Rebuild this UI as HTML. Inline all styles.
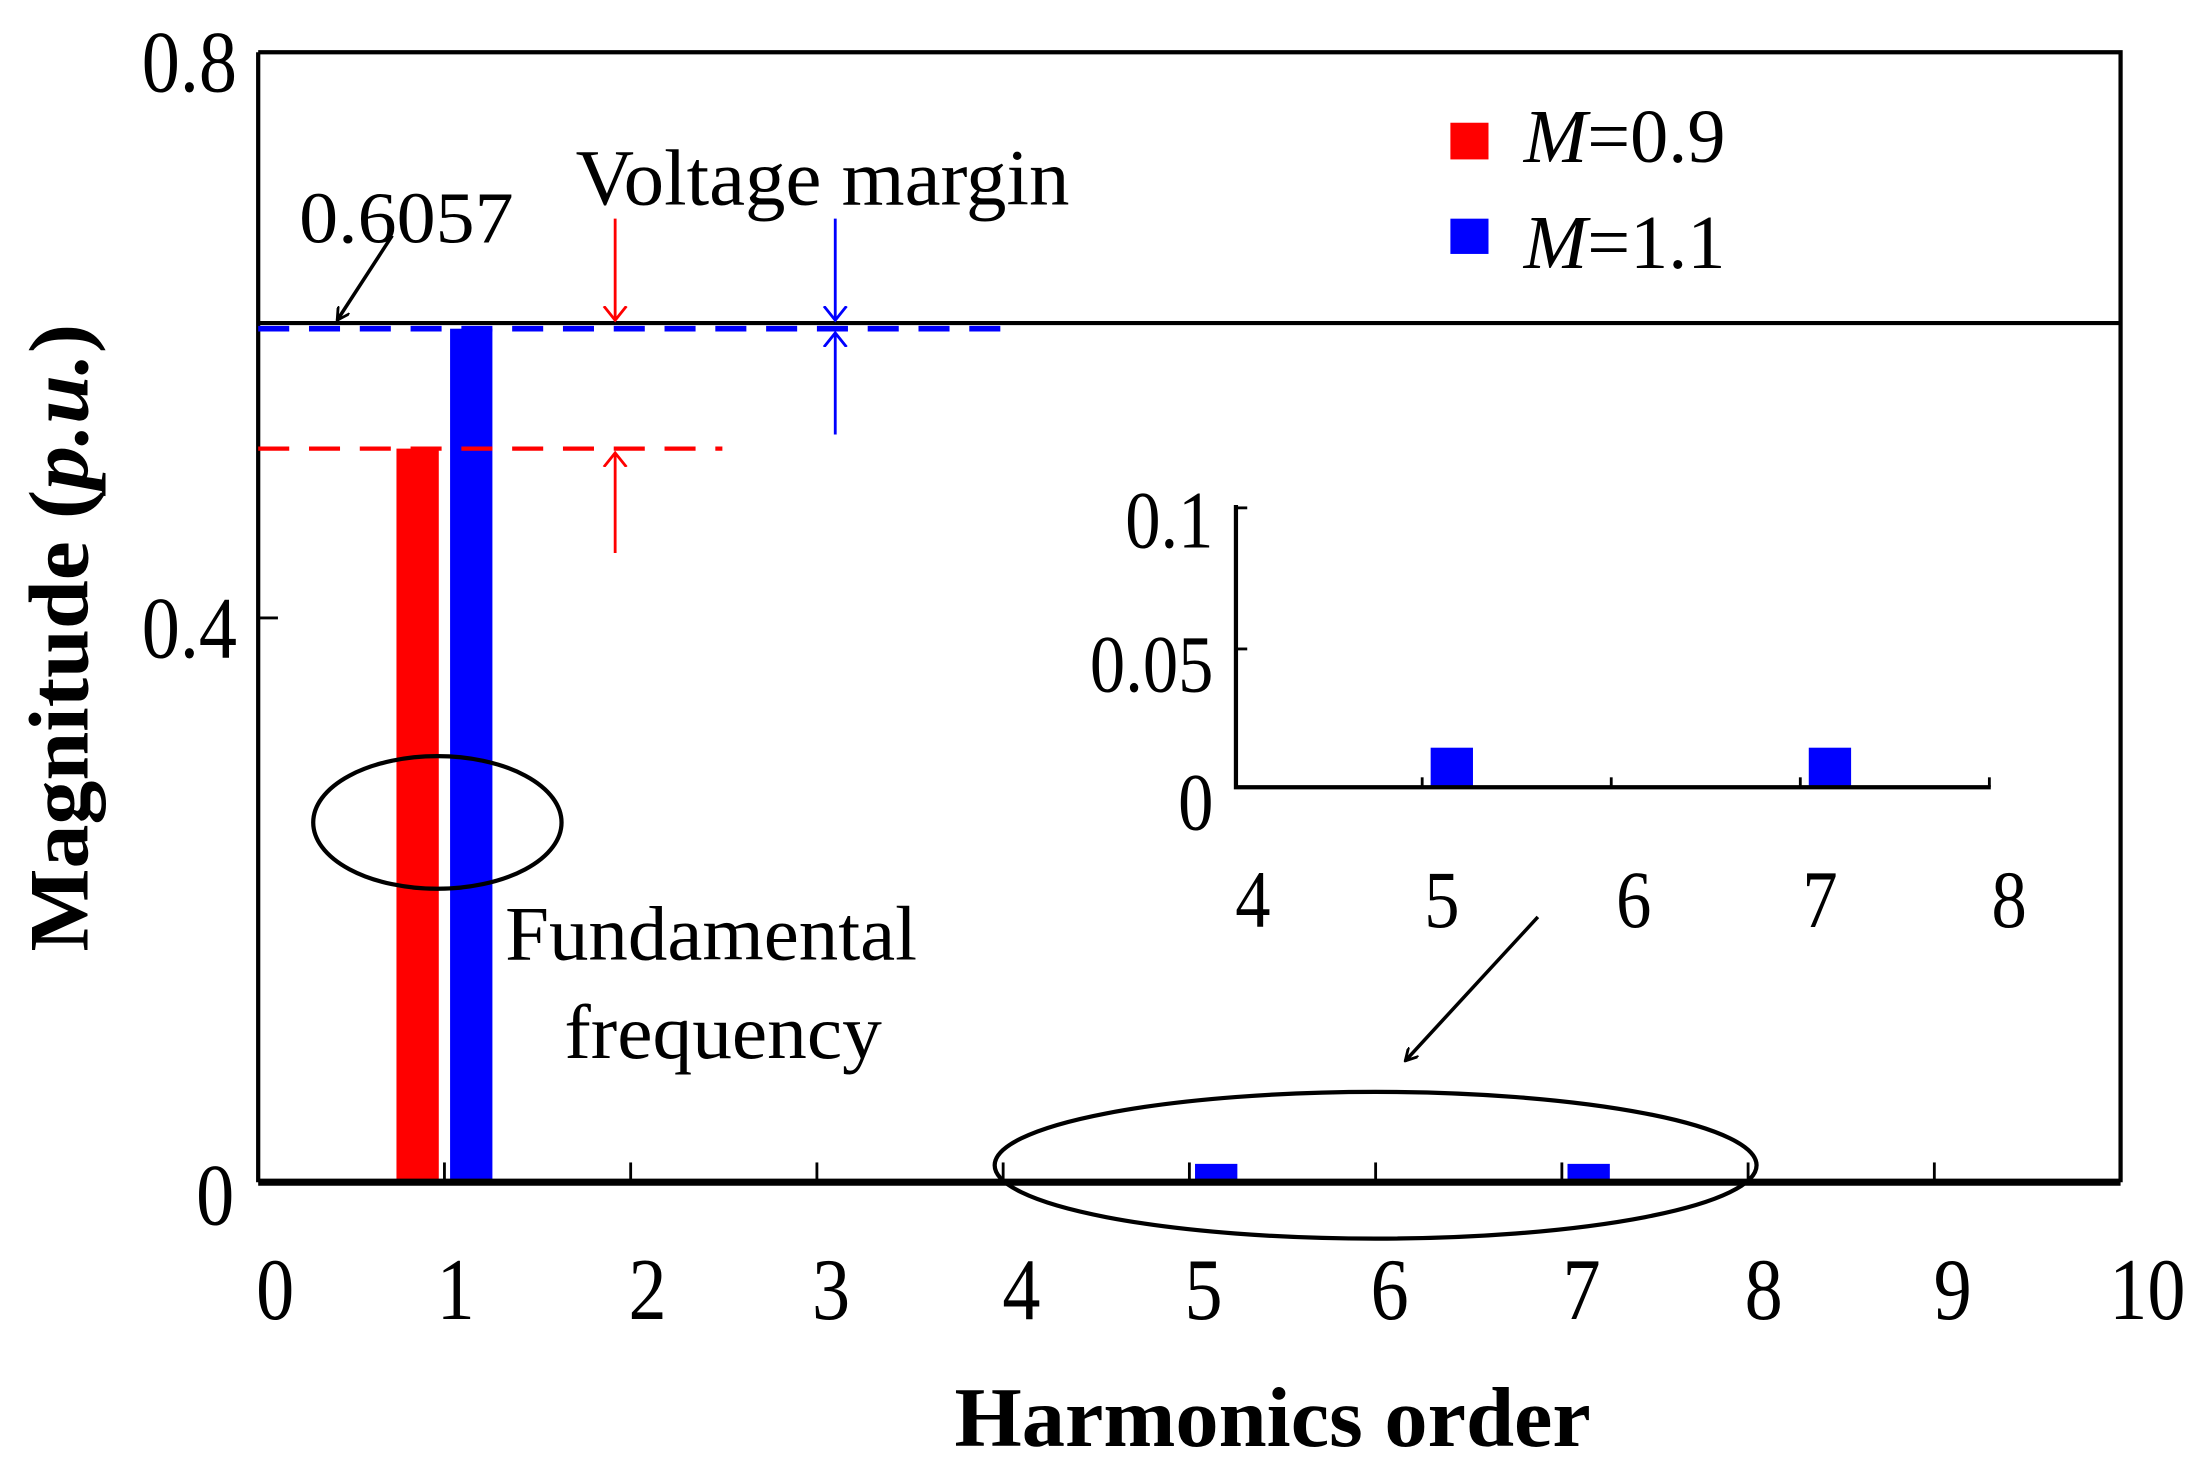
<!DOCTYPE html>
<html><head><meta charset="utf-8"><style>
html,body{margin:0;padding:0;background:#fff;}
svg{display:block;}
text{font-family:"Liberation Serif",serif;}
</style></head><body>
<svg width="2201" height="1470" viewBox="0 0 1560 1042" preserveAspectRatio="none" xmlns="http://www.w3.org/2000/svg">
<defs>
<marker id="ak" markerWidth="10" markerHeight="10" refX="9" refY="5" orient="auto" markerUnits="userSpaceOnUse"><path d="M0,0 L9,5 L0,10" fill="none" stroke="#000" stroke-width="2"/></marker>
<marker id="ar" markerWidth="20" markerHeight="20" refX="10" refY="10" orient="auto" markerUnits="userSpaceOnUse"><path d="M0,2 L10,10 L0,18" fill="none" stroke="red" stroke-width="2"/></marker>
<marker id="ab" markerWidth="20" markerHeight="20" refX="10" refY="10" orient="auto" markerUnits="userSpaceOnUse"><path d="M0,2 L10,10 L0,18" fill="none" stroke="blue" stroke-width="2"/></marker>
</defs>
<rect x="281" y="318" width="30" height="520" fill="red"/>
<rect x="319" y="233" width="30" height="605" fill="blue"/>
<rect x="847" y="825" width="30" height="13" fill="blue"/>
<rect x="1111" y="825" width="30" height="13" fill="blue"/>
<path d="M183,37 H1503 V838 M183,37 V838" fill="none" stroke="#000" stroke-width="3"/>
<line x1="183" y1="838" x2="1503" y2="838" stroke="#000" stroke-width="5"/>
<g stroke="#000" stroke-width="2">
<line x1="315" y1="838" x2="315" y2="824"/><line x1="447" y1="838" x2="447" y2="824"/><line x1="579" y1="838" x2="579" y2="824"/><line x1="711" y1="838" x2="711" y2="824"/><line x1="843" y1="838" x2="843" y2="824"/><line x1="975" y1="838" x2="975" y2="824"/><line x1="1107" y1="838" x2="1107" y2="824"/><line x1="1239" y1="838" x2="1239" y2="824"/><line x1="1371" y1="838" x2="1371" y2="824"/>
<line x1="183" y1="438" x2="197" y2="438"/>
</g>
<line x1="183" y1="229" x2="1503" y2="229" stroke="#000" stroke-width="3"/>
<line x1="183" y1="233" x2="720" y2="233" stroke="blue" stroke-width="4" stroke-dasharray="22,14"/>
<line x1="183" y1="318" x2="512" y2="318" stroke="red" stroke-width="3" stroke-dasharray="22,14"/>
<line x1="436" y1="155" x2="436" y2="227" stroke="red" stroke-width="2" marker-end="url(#ar)"/>
<line x1="436" y1="392" x2="436" y2="321" stroke="red" stroke-width="2" marker-end="url(#ar)"/>
<line x1="592" y1="155" x2="592" y2="227" stroke="blue" stroke-width="2" marker-end="url(#ab)"/>
<line x1="592" y1="308" x2="592" y2="236" stroke="blue" stroke-width="2" marker-end="url(#ab)"/>
<line x1="278" y1="167" x2="239" y2="227" stroke="#000" stroke-width="2.5" marker-end="url(#ak)"/>
<line x1="1090" y1="650" x2="996" y2="752" stroke="#000" stroke-width="2.5" marker-end="url(#ak)"/>
<ellipse cx="310" cy="583" rx="88" ry="47" fill="none" stroke="#000" stroke-width="3"/>
<ellipse cx="975" cy="826" rx="270" ry="52" fill="none" stroke="#000" stroke-width="3"/>
<rect x="1014" y="530" width="30" height="28" fill="blue"/>
<rect x="1282" y="530" width="30" height="28" fill="blue"/>
<path d="M876,358 V558 H1411" fill="none" stroke="#000" stroke-width="3"/>
<g stroke="#000" stroke-width="2">
<line x1="876" y1="460" x2="884" y2="460"/><line x1="876" y1="360" x2="884" y2="360"/>
<line x1="1008" y1="558" x2="1008" y2="551"/><line x1="1142" y1="558" x2="1142" y2="551"/><line x1="1276" y1="558" x2="1276" y2="551"/><line x1="1410" y1="558" x2="1410" y2="551"/>
</g>
<g font-size="50" text-anchor="end">
<text x="860" y="388" transform="translate(860,388) scale(1,1.15) translate(-860,-388)">0.1</text>
<text x="860" y="490" transform="translate(860,490) scale(1,1.15) translate(-860,-490)">0.05</text>
<text x="860" y="588" transform="translate(860,588) scale(1,1.15) translate(-860,-588)">0</text>
</g>
<g font-size="50" text-anchor="middle" transform="translate(0,657) scale(1,1.15) translate(0,-657)">
<text x="888" y="657">4</text><text x="1022" y="657">5</text><text x="1158" y="657">6</text><text x="1290" y="657">7</text><text x="1424" y="657">8</text>
</g>
<g font-size="54" text-anchor="end">
<text x="168" y="65" transform="translate(168,65) scale(1,1.15) translate(-168,-65)">0.8</text>
<text x="168" y="466" transform="translate(168,466) scale(1,1.15) translate(-168,-466)">0.4</text>
<text x="166" y="868" transform="translate(166,868) scale(1,1.15) translate(-166,-868)">0</text>
</g>
<g font-size="54" text-anchor="middle" transform="translate(0,935) scale(1,1.15) translate(0,-935)">
<text x="195" y="935">0</text><text x="323" y="935">1</text><text x="459" y="935">2</text><text x="589" y="935">3</text><text x="724" y="935">4</text><text x="853" y="935">5</text><text x="985" y="935">6</text><text x="1121" y="935">7</text><text x="1250" y="935">8</text><text x="1384" y="935">9</text><text x="1522" y="935">10</text>
</g>
<text x="408" y="145" font-size="56" textLength="350" lengthAdjust="spacingAndGlyphs">Voltage margin</text>
<text x="212" y="172" font-size="52" textLength="152" lengthAdjust="spacingAndGlyphs">0.6057</text>
<text x="358" y="680" font-size="55" textLength="292" lengthAdjust="spacingAndGlyphs">Fundamental</text>
<text x="400" y="750" font-size="55" textLength="225" lengthAdjust="spacingAndGlyphs">frequency</text>
<rect x="1028" y="87" width="27" height="26" fill="red"/>
<rect x="1028" y="155" width="27" height="25" fill="blue"/>
<text x="1080" y="115" font-size="54"><tspan font-style="italic">M</tspan>=0.9</text>
<text x="1080" y="190" font-size="54"><tspan font-style="italic">M</tspan>=1.1</text>
<text x="902" y="1025" font-size="60" font-weight="bold" text-anchor="middle" textLength="451" lengthAdjust="spacingAndGlyphs">Harmonics order</text>
<text transform="translate(62,452) rotate(-90)" font-size="60" font-weight="bold" text-anchor="middle" textLength="445" lengthAdjust="spacingAndGlyphs">Magnitude (<tspan font-style="italic">p.u.</tspan>)</text>
</svg>
</body></html>
